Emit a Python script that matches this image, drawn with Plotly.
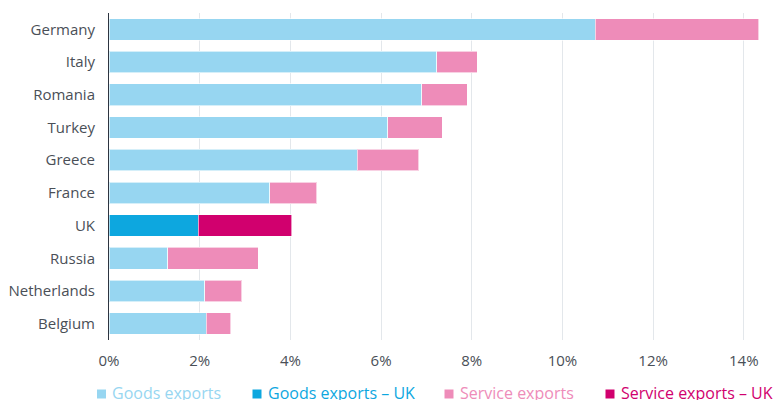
import plotly.graph_objects as go

countries = ["Germany", "Italy", "Romania", "Turkey", "Greece", "France", "UK", "Russia", "Netherlands", "Belgium"]
goods = [10.72, 7.23, 6.90, 6.15, 5.48, 3.54, 1.97, 1.30, 2.11, 2.14]
services = [3.61, 0.89, 1.00, 1.20, 1.35, 1.04, 2.06, 1.99, 0.82, 0.55]
highlight = "UK"
x_ticks = [0, 2, 4, 6, 8, 10, 12, 14]
x_tick_labels = ["0%", "2%", "4%", "6%", "8%", "10%", "12%", "14%"]
legend_names = ["Goods exports", "Goods exports – UK", "Service exports", "Service exports – UK"]

C_GOODS = "#97D6F1"
C_GOODS_UK = "#0DA7DF"
C_SERV = "#EE8CB9"
C_SERV_UK = "#D1006E"
colors = [C_GOODS, C_GOODS_UK, C_SERV, C_SERV_UK]

W, H = 775, 400
ML, MR, MT, MB = 109, 4, 13, 60

def split(vals, uk):
    return [v if (c == highlight) == uk else None for c, v in zip(countries, vals)]

fig = go.Figure()
series_vals = [split(goods, False), split(goods, True), split(services, False), split(services, True)]
for name, vals, col in zip(legend_names, series_vals, colors):
    fig.add_trace(go.Bar(
        y=countries, x=vals, orientation="h", name=name,
        marker=dict(color=col, line=dict(color="rgba(255,255,255,0.6)", width=1)),
    ))

# custom legend (square + coloured label), laid out along the bottom
plot_h = H - MT - MB
def px_to_paper_x(px):
    return (px - ML) / (W - ML - MR)
def px_to_paper_y(py):
    return (H - MB - py) / plot_h

legend_square_x = [97, 252.5, 444.5, 605.5]
annotations = []
shapes = []
for name, col, sx in zip(legend_names, colors, legend_square_x):
    shapes.append(dict(type="rect", xref="paper", yref="paper",
                       x0=px_to_paper_x(sx), x1=px_to_paper_x(sx + 9),
                       y0=px_to_paper_y(398.5), y1=px_to_paper_y(389.5),
                       fillcolor=col, line=dict(width=0), layer="above"))
    annotations.append(dict(text=name, xref="paper", yref="paper",
                            x=px_to_paper_x(sx + 13), y=px_to_paper_y(393),
                            xanchor="left", yanchor="middle", showarrow=False,
                            font=dict(family="Open Sans", size=16, color=col)))

fig.update_layout(
    width=W, height=H,
    barmode="stack", bargap=0.34,
    margin=dict(l=ML, r=MR, t=MT, b=MB, autoexpand=False),
    plot_bgcolor="white", paper_bgcolor="white",
    font=dict(family="Open Sans", size=15, color="#4a4f57"),
    showlegend=False,
    annotations=annotations, shapes=shapes,
    xaxis=dict(range=[0, 14.6], tickvals=x_ticks, ticktext=x_tick_labels,
               showgrid=True, gridcolor="#e3e7eb", gridwidth=1, zeroline=False,
               ticks="", showline=False, automargin=False, ticklabelstandoff=10,
               tickfont=dict(size=15, color="#4a4f57")),
    yaxis=dict(categoryorder="array", categoryarray=countries, autorange="reversed",
               showline=True, linecolor="#2d3440", linewidth=1, ticks="",
               automargin=False, ticklabelstandoff=10,
               tickfont=dict(size=15, color="#4a4f57")),
)
fig.write_html("out.html", config={"displayModeBar": False})

# remove the browser's default page margin so the figure sits at the window's corner
with open("out.html", encoding="utf-8") as f:
    html = f.read()
html = html.replace("<body>", "<body style=\"margin:0;padding:0;overflow:hidden\">", 1)
with open("out.html", "w", encoding="utf-8") as f:
    f.write(html)
